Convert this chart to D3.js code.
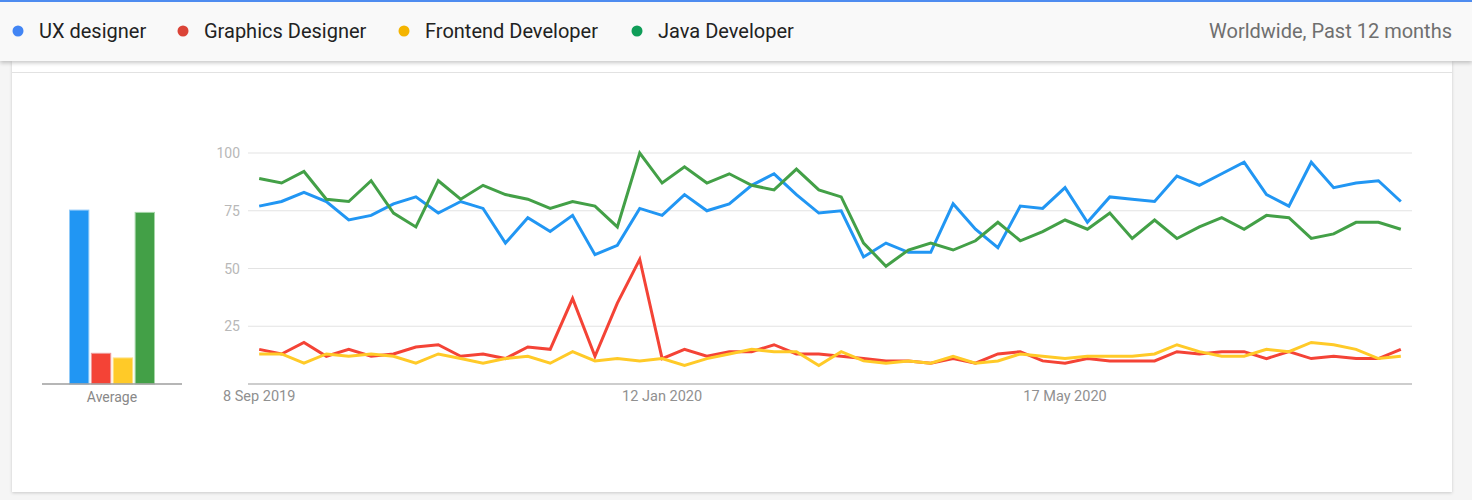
<!DOCTYPE html>
<html lang="en">
<head>
    <meta charset="UTF-8">
    <title>Interest over time</title>
    <script src="https://d3js.org/d3.v7.min.js"></script>
    <style>
        body { margin: 0; background: #f5f5f5; font-family: Roboto, sans-serif; width: 1472px; height: 500px; overflow: hidden; position: relative; }
        #header { position: absolute; left: 0; top: 0; width: 1472px; height: 59px; background: #f9f9f9;
                  border-top: 2px solid #4e8cf0; box-shadow: 0 2px 4px rgba(0,0,0,0.22); z-index: 2; }
        #card { position: absolute; left: 12px; top: 61px; width: 1440px; height: 431px; background: #fff;
                box-shadow: 0 1px 3px rgba(0,0,0,0.18); }
        #card .rule { position: absolute; left: 0; top: 11px; width: 100%; height: 1px; background: #e2e2e2; }
        svg { position: absolute; left: 0; top: 0; z-index: 3; }
    </style>
</head>
<body>
    <div id="header"></div>
    <div id="card"><div class="rule"></div></div>
    <svg width="1472" height="500"></svg>
    <script>
        const seriesNames = ["UX designer", "Graphics Designer", "Frontend Developer", "Java Developer"];
        const dotColors = ["#4285f4", "#db4437", "#f4b400", "#0f9d58"];
        const lineColors = ["#2196f3", "#f44336", "#ffca28", "#43a047"];
        const barStroke = ["#90caf9", "#ef9a9a", "#ffe082", "#a5d6a7"];
        const averages = [75.5, 13.5, 11.5, 74.5];

        const uxDesigner = [77, 79, 83, 79, 71, 73, 78, 81, 74, 79, 76, 61, 72, 66, 73, 56, 60, 76, 73, 82, 75, 78, 86, 91, 82, 74,
                            75, 55, 61, 57, 57, 78, 67, 59, 77, 76, 85, 70, 81, 80, 79, 90, 86, 91, 96, 82, 77, 96, 85, 87, 88, 79];
        const graphicsDesigner = [15, 13, 18, 12, 15, 12, 13, 16, 17, 12, 13, 11, 16, 15, 37, 12, 35, 54, 11, 15, 12, 14, 14, 17, 13, 13,
                                  12, 11, 10, 10, 9, 11, 9, 13, 14, 10, 9, 11, 10, 10, 10, 14, 13, 14, 14, 11, 14, 11, 12, 11, 11, 15];
        const frontendDeveloper = [13, 13, 9, 13, 12, 13, 12, 9, 13, 11, 9, 11, 12, 9, 14, 10, 11, 10, 11, 8, 11, 13, 15, 14, 14, 8,
                                   14, 10, 9, 10, 9, 12, 9, 10, 13, 12, 11, 12, 12, 12, 13, 17, 14, 12, 12, 15, 14, 18, 17, 15, 11, 12];
        const javaDeveloper = [89, 87, 92, 80, 79, 88, 74, 68, 88, 80, 86, 82, 80, 76, 79, 77, 68, 100, 87, 94, 87, 91, 86, 84, 93, 84,
                               81, 61, 51, 58, 61, 58, 62, 70, 62, 66, 71, 67, 74, 63, 71, 63, 68, 72, 67, 73, 72, 63, 65, 70, 70, 67];
        const allSeries = [uxDesigner, graphicsDesigner, frontendDeveloper, javaDeveloper];

        const weeks = d3.timeWeek.range(new Date(2019, 8, 8), new Date(2020, 8, 1));
        const tickLabels = ["8 Sep 2019", "12 Jan 2020", "17 May 2020"];
        const yTicks = [25, 50, 75, 100];
        const fmt = d3.timeFormat("%-d %b %Y");

        const svg = d3.select("svg");

        // header legend
        const legendX = [18, 183, 404, 637];
        const legend = svg.append("g");
        seriesNames.forEach((name, i) => {
            legend.append("circle").attr("cx", legendX[i]).attr("cy", 31).attr("r", 5.5).attr("fill", dotColors[i]);
            legend.append("text").attr("x", legendX[i] + 21).attr("y", 38)
                .attr("font-size", "20px").attr("fill", "#222").text(name);
        });
        svg.append("text").attr("x", 1452).attr("y", 38).attr("text-anchor", "end")
            .attr("font-size", "20px").attr("fill", "#6f6f6f").text("Worldwide, Past 12 months");

        const y = d3.scaleLinear().domain([0, 100]).range([384, 153]);

        // average bars
        const xb = d3.scaleBand().domain(seriesNames).range([69, 155]).paddingInner(0.07);
        svg.append("g").selectAll("rect").data(averages).join("rect")
            .attr("x", (d, i) => xb(seriesNames[i]) + 0.5)
            .attr("y", d => y(d) + 0.5)
            .attr("width", xb.bandwidth() - 1)
            .attr("height", d => y(0) - y(d) - 0.5)
            .attr("fill", (d, i) => lineColors[i])
            .attr("stroke", (d, i) => barStroke[i]);
        svg.append("line").attr("x1", 42).attr("x2", 182).attr("y1", y(0)).attr("y2", y(0))
            .attr("stroke", "#9e9e9e").attr("stroke-width", 1.5);
        svg.append("text").attr("x", 112).attr("y", 401.5).attr("text-anchor", "middle")
            .attr("font-size", "14px").attr("fill", "#888").text("Average");

        // line chart
        const x = d3.scalePoint().domain(weeks.map(d => +d)).range([248, 1412]).padding(0.5);

        svg.append("g").selectAll("line").data(yTicks).join("line")
            .attr("x1", 248).attr("x2", 1412).attr("y1", d => y(d)).attr("y2", d => y(d))
            .attr("stroke", "#e3e3e3").attr("stroke-width", 1);
        svg.append("g").selectAll("text").data(yTicks).join("text")
            .attr("x", 240).attr("y", d => y(d) + 5).attr("text-anchor", "end")
            .attr("font-size", "14px").attr("fill", "#b8b8b8").text(d => d);
        svg.append("line").attr("x1", 248).attr("x2", 1412).attr("y1", y(0)).attr("y2", y(0))
            .attr("stroke", "#bdbdbd").attr("stroke-width", 1.5);

        const tickWeeks = weeks.filter(d => tickLabels.includes(fmt(d)));
        svg.append("g").selectAll("text").data(tickWeeks).join("text")
            .attr("x", d => x(+d)).attr("y", 401).attr("text-anchor", "middle")
            .attr("font-size", "14.5px").attr("fill", "#909090").text(d => fmt(d));

        const line = d3.line().x((d, i) => x(+weeks[i])).y(d => y(d));
        svg.append("g").selectAll("path").data(allSeries).join("path")
            .attr("d", line)
            .attr("fill", "none")
            .attr("stroke", (d, i) => lineColors[i])
            .attr("stroke-width", 3)
            .attr("stroke-linejoin", "miter");
    </script>
</body>
</html>
